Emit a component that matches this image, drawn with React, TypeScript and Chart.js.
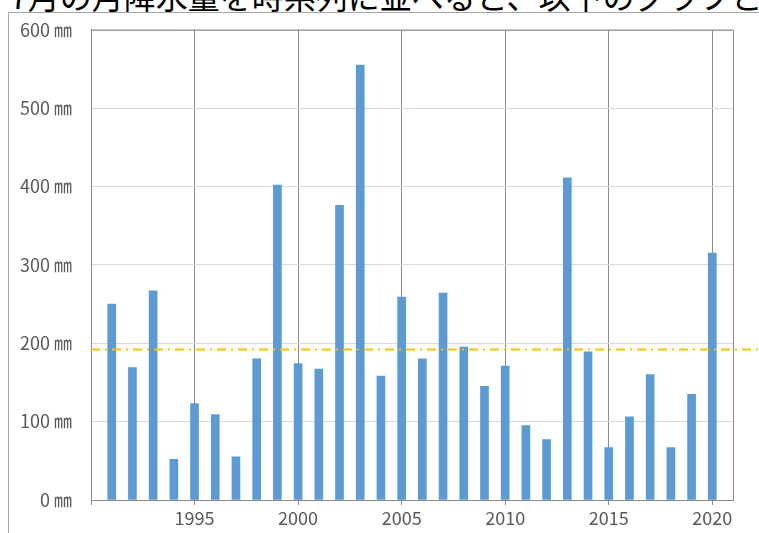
import React, { useEffect, useRef } from 'react';
import { Chart, registerables } from 'chart.js';

Chart.register(...registerables);

const title = '7月の月降水量を時系列に並べると、以下のグラフと';
const years = [
  1991, 1992, 1993, 1994, 1995, 1996, 1997, 1998, 1999, 2000,
  2001, 2002, 2003, 2004, 2005, 2006, 2007, 2008, 2009, 2010,
  2011, 2012, 2013, 2014, 2015, 2016, 2017, 2018, 2019, 2020,
];
const rainfall = [
  250, 169, 267, 52, 123, 109, 55, 180, 402, 174,
  167, 376, 555, 158, 259, 180, 264, 195, 145, 171,
  95, 77, 411, 189, 67, 106, 160, 67, 135, 315,
];
const average = 192;
const xTicks = [1990, 1995, 2000, 2005, 2010, 2015, 2020];
const xTickLabels = ['', '1995', '2000', '2005', '2010', '2015', '2020'];
const yTicks = [0, 100, 200, 300, 400, 500, 600];
const yUnit = '㎜';

const FONT = "'Noto Sans CJK JP', 'Noto Sans', sans-serif";

export default function App() {
  const ref = useRef<HTMLCanvasElement | null>(null);

  useEffect(() => {
    if (!ref.current) return;
    const overlay = {
      id: 'overlay',
      afterDraw(chart: any) {
        const { ctx, chartArea, scales } = chart;
        ctx.save();
        ctx.strokeStyle = '#8a8a8a';
        ctx.lineWidth = 1;
        ctx.beginPath();
        ctx.moveTo(chartArea.left, chartArea.top + 0.5);
        ctx.lineTo(chartArea.right + 0.5, chartArea.top + 0.5);
        ctx.lineTo(chartArea.right + 0.5, chartArea.bottom);
        ctx.stroke();
        const y = scales.y.getPixelForValue(average);
        ctx.strokeStyle = '#FFC000';
        ctx.lineWidth = 2;
        ctx.setLineDash([9, 5, 2, 5]);
        ctx.beginPath();
        ctx.moveTo(chartArea.left, y);
        ctx.lineTo(chart.width, y);
        ctx.stroke();
        ctx.restore();
      },
    };

    const chart = new Chart(ref.current, {
      type: 'bar',
      data: {
        datasets: [
          {
            data: years.map((yr, i) => ({ x: yr, y: rainfall[i] })),
            backgroundColor: '#5B9BD5',
            barThickness: 8,
          },
        ],
      },
      options: {
        animation: false,
        responsive: false,
        devicePixelRatio: 1,
        layout: { padding: { left: 0, top: 26, right: 26, bottom: 0 } },
        plugins: { legend: { display: false }, tooltip: { enabled: false } },
        scales: {
          x: {
            type: 'linear',
            offset: false,
            min: 1990,
            max: 2021,
            afterBuildTicks: (scale: any) => {
              scale.ticks = xTicks.map((v) => ({ value: v }));
            },
            afterFit: (scale: any) => {
              scale.height = 33;
            },
            grid: { color: '#8a8a8a', tickLength: 5, drawTicks: true, offset: false },
            border: { display: true, color: '#8a8a8a' },
            ticks: {
              autoSkip: false,
              maxRotation: 0,
              padding: 2,
              color: '#595959',
              font: { family: FONT, size: 18 },
              callback: (_v: any, i: number) => xTickLabels[i],
            },
          },
          y: {
            min: 0,
            max: 600,
            afterBuildTicks: (scale: any) => {
              scale.ticks = yTicks.map((v) => ({ value: v }));
            },
            afterFit: (scale: any) => {
              scale.width = 91;
            },
            grid: { color: '#d9d9d9', drawTicks: false },
            border: { display: true, color: '#8a8a8a' },
            ticks: {
              padding: 19,
              color: '#595959',
              font: { family: FONT, size: 18 },
              callback: (v: any) => `${v} ${yUnit}`,
            },
          },
        },
      },
      plugins: [overlay],
    } as any);
    return () => chart.destroy();
  }, []);

  return (
    <div
      style={{
        position: 'absolute',
        left: 0,
        top: 0,
        width: 759,
        height: 533,
        overflow: 'hidden',
        background: '#ffffff',
      }}
    >
      <div
        style={{
          position: 'absolute',
          left: 10,
          top: -21,
          fontFamily: FONT,
          fontSize: 32,
          lineHeight: '32px',
          whiteSpace: 'nowrap',
          color: '#000',
        }}
      >
        {title}
      </div>
      <div
        style={{
          position: 'absolute',
          left: 8,
          top: 12,
          width: 900,
          height: 900,
          border: '1px solid #a6a6a6',
          background: '#fff',
        }}
      />
      <canvas
        ref={ref}
        width={759}
        height={533}
        style={{ position: 'absolute', left: 0, top: 0, width: 759, height: 533 }}
      />
    </div>
  );
}
